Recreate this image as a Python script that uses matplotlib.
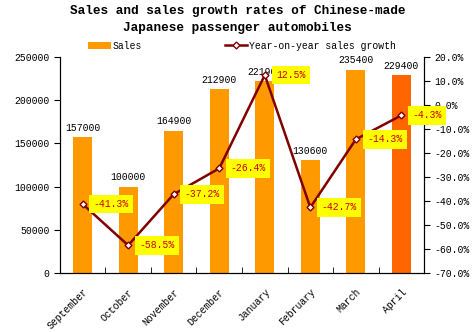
import numpy as np
import matplotlib
matplotlib.use('Agg')
import matplotlib.pyplot as plt
from matplotlib.ticker import FuncFormatter

plt.rcParams['font.family'] = ['Liberation Mono', 'DejaVu Sans Mono']

months = ['September', 'October', 'November', 'December',
          'January', 'February', 'March', 'April']
sales = [157000, 100000, 164900, 212900, 221900, 130600, 235400, 229400]
growth = [-41.3, -58.5, -37.2, -26.4, 12.5, -42.7, -14.3, -4.3]

bar_colors = ['#FF9900'] * 7 + ['#FF6600']
x = np.arange(len(months))

fig = plt.figure(figsize=(4.75, 3.32), dpi=100)
ax = fig.add_axes([0.126, 0.178, 0.767, 0.65])
ax2 = ax.twinx()

bars = ax.bar(x, sales, width=0.42, color=bar_colors, label='Sales', zorder=2)
ax.set_xlim(-0.5, len(months) - 0.5)
ax.set_ylim(0, 250000)
ax.set_yticks(np.arange(0, 250001, 50000))
ax.tick_params(axis='y', direction='out', length=4, labelsize=7)
ax.set_xticks(x)
ax.set_xticklabels(months, rotation=45, ha='right', rotation_mode='anchor', fontsize=7)
ax.tick_params(axis='x', length=0, pad=10)
ax.set_xticks(np.arange(0.5, len(months) - 1, 1), minor=True)
ax.tick_params(axis='x', which='minor', direction='in', length=4)
ax.spines['top'].set_visible(False)

# sales figures above each bar
for xi, v in zip(x, sales):
    ax.text(xi, v + 5000, str(v), ha='center', va='bottom', fontsize=7, zorder=3)

line, = ax2.plot(x, growth, color='#800000', lw=1.8, marker='D', markersize=3.5,
                 markerfacecolor='white', markeredgecolor='#800000',
                 label='Year-on-year sales growth', zorder=4)
ax2.set_ylim(-70, 20)
ax2.set_yticks(np.arange(-70, 21, 10))
ax2.yaxis.set_major_formatter(FuncFormatter(lambda v, p: f'{v:.1f}%'))
ax2.tick_params(axis='y', direction='out', length=4, labelsize=7)
ax2.spines['top'].set_visible(False)

# growth rate tags in yellow boxes
for xi, g in zip(x, growth):
    ax2.annotate(f'{g}%', (xi, g), xytext=(8, 0), textcoords='offset points',
                 ha='left', va='center', fontsize=7, color='#CC0000', zorder=5,
                 bbox=dict(boxstyle='square,pad=0.45', fc='#FFFF00', ec='none'))

fig.legend([bars, line], ['Sales', 'Year-on-year sales growth'], ncol=2,
           loc='center', bbox_to_anchor=(0.51, 0.862), frameon=False, fontsize=7,
           columnspacing=8.5, handlelength=2.3, handletextpad=0.2)

fig.suptitle('Sales and sales growth rates of Chinese-made\nJapanese passenger automobiles',
             y=0.985, fontsize=9.2, fontweight='bold', linespacing=1.6)

fig.savefig('out.png', dpi=100)
